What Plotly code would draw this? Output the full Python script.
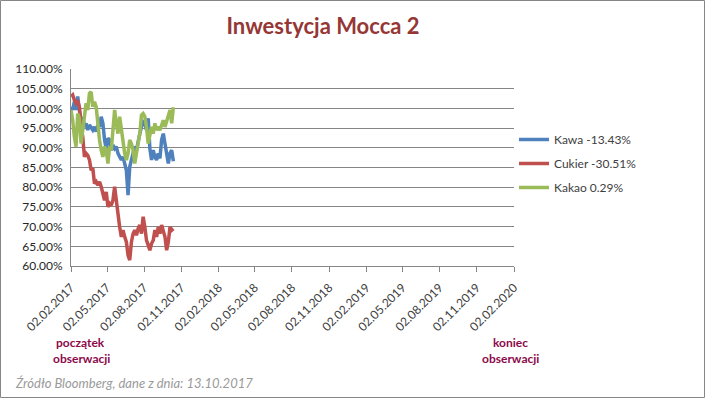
import pandas as pd
import plotly.graph_objects as go

# ---- data (percent of starting value) ----
start_date = "2017-02-02"
end_date = "2017-10-13"

kawa = [100.4, 99.6, 101.7, 99.6, 103.0, 98.7, 96.2, 97.9, 95.3, 96.2,
        94.5, 95.8, 94.9, 94.5, 95.3, 94.1, 95.8, 95.3, 97.9, 96.2,
        92.0, 89.8, 92.4, 92.0, 89.4, 90.7, 89.8, 90.3, 88.6, 87.7,
        86.9, 87.7, 86.0, 84.3, 78.0, 85.2, 86.9, 89.0, 90.3, 89.4,
        92.0, 93.6, 95.3, 96.6, 96.2, 94.5, 97.5, 89.8, 86.9, 89.4,
        87.7, 86.9, 88.6, 87.3, 92.0, 93.6, 91.1, 88.6, 86.0, 88.6,
        89.4, 86.57]
cukier = [103.0, 103.4, 102.1, 101.3, 101.7, 100.4, 95.3, 92.8, 87.7, 88.6,
          88.1, 86.9, 84.3, 84.8, 80.9, 81.4, 80.5, 81.4, 80.1, 78.4,
          76.7, 78.8, 75.0, 75.9, 75.4, 76.7, 80.1, 76.7, 72.5, 69.9,
          67.4, 69.1, 67.4, 66.1, 62.7, 61.5, 66.1, 68.2, 69.1, 67.8,
          69.5, 70.4, 68.2, 72.5, 69.9, 66.5, 65.3, 64.0, 65.7, 66.5,
          69.1, 67.4, 69.9, 68.2, 70.4, 69.1, 67.4, 64.0, 66.1, 69.9,
          69.1, 69.49]
kakao = [99.6, 97.0, 92.8, 90.3, 98.7, 97.5, 91.1, 95.3, 97.9, 101.3,
         99.6, 103.8, 104.2, 100.4, 101.7, 100.4, 95.3, 92.0, 89.4, 87.7,
         90.3, 89.4, 86.0, 90.3, 89.4, 95.3, 99.6, 96.2, 93.6, 97.9,
         94.5, 92.0, 88.6, 86.9, 88.6, 92.0, 91.1, 89.4, 86.0, 88.6,
         91.1, 93.6, 98.3, 98.7, 97.9, 95.3, 91.1, 93.2, 95.3, 93.6,
         96.2, 94.5, 95.3, 94.5, 96.2, 97.0, 95.3, 96.6, 97.9, 99.6,
         96.2, 100.29]
dates = pd.date_range(start_date, end_date, periods=len(kawa))

series_names = ["Kawa -13.43%", "Cukier -30.51%", "Kakao 0.29%"]
series_values = [kawa, cukier, kakao]
series_colors = ["#4F81BD", "#C0504D", "#9BBB59"]

tick_dates = ["2017-02-02", "2017-05-02", "2017-08-02", "2017-11-02",
              "2018-02-02", "2018-05-02", "2018-08-02", "2018-11-02",
              "2019-02-02", "2019-05-02", "2019-08-02", "2019-11-02",
              "2020-02-02"]
tick_labels = [pd.Timestamp(d).strftime("%d.%m.%Y") for d in tick_dates]
y_ticks = [60, 65, 70, 75, 80, 85, 90, 95, 100, 105, 110]
y_labels = [f"{v:.2f}%" for v in y_ticks]

# ---- layout geometry ----
W, H = 705, 398
L, R, T, B = 71, 514, 69, 266
pw, ph = R - L, B - T


def px(x):
    return (x - L) / pw


def py(y):
    return (B - y) / ph


FONT = "Lato, Open Sans, sans-serif"

fig = go.Figure()
for i, (name, vals, col) in enumerate(zip(series_names, series_values, series_colors)):
    fig.add_trace(go.Scatter(x=dates, y=vals, mode="lines", name=name,
                             legendgroup=str(i),
                             line=dict(color=col, width=3.5)))

fig.update_layout(
    width=W, height=H,
    margin=dict(l=L, r=W - R, t=T, b=H - B, pad=0),
    paper_bgcolor="white", plot_bgcolor="white",
    font=dict(family=FONT, size=12, color="#404040"),
    title=dict(text="<b>Inwestycja Mocca 2</b>", x=323 / W, xanchor="center",
               xref="container", y=1 - 26 / H, yanchor="middle", yref="container",
               font=dict(size=22, color="#953735", family=FONT)),
    showlegend=True,
    legend=dict(x=px(514), y=py(125), xanchor="left", yanchor="top",
                traceorder="grouped", tracegroupgap=5,
                font=dict(size=12, color="#404040"),
                bgcolor="rgba(0,0,0,0)"),
    xaxis=dict(type="date", range=["2017-02-02", "2020-02-02"],
               tickvals=tick_dates, ticktext=tick_labels, tickangle=-45,
               showgrid=False, showline=True, linecolor="#868686", linewidth=1,
               ticks="outside", ticklen=5, tickcolor="#868686",
               ticklabelstandoff=4,
               tickfont=dict(size=12, color="#404040"), zeroline=False),
    yaxis=dict(range=[60, 110], tickvals=y_ticks, ticktext=y_labels,
               showgrid=True, gridcolor="#868686", gridwidth=1,
               showline=True, linecolor="#868686", linewidth=1,
               ticks="", ticklabelstandoff=5,
               tickfont=dict(size=12, color="#262626"),
               zeroline=False),
)

# border around chart
fig.add_shape(type="rect", xref="paper", yref="paper",
              x0=px(0.5), x1=px(W - 0.5), y0=py(H - 0.5), y1=py(0.5),
              line=dict(color="#868686", width=1), fillcolor="rgba(0,0,0,0)",
              layer="below")

ann_color = "#8C0A4B"
for text, xc, yc in [("początek", 80, 342), ("obserwacji", 81, 358),
                     ("koniec", 510, 342), ("obserwacji", 510, 358)]:
    fig.add_annotation(text=f"<b>{text}</b>", xref="paper", yref="paper",
                       x=px(xc), y=py(yc), showarrow=False, xanchor="center",
                       yanchor="middle", align="center",
                       font=dict(size=12, color=ann_color, family=FONT))
fig.add_annotation(text="<i>Źródło Bloomberg, dane z dnia: 13.10.2017</i>",
                   xref="paper", yref="paper", x=px(13), y=py(383),
                   showarrow=False, xanchor="left", yanchor="middle",
                   font=dict(size=13, color="#9A9A9A", family=FONT))

fig.write_html("out.html")
